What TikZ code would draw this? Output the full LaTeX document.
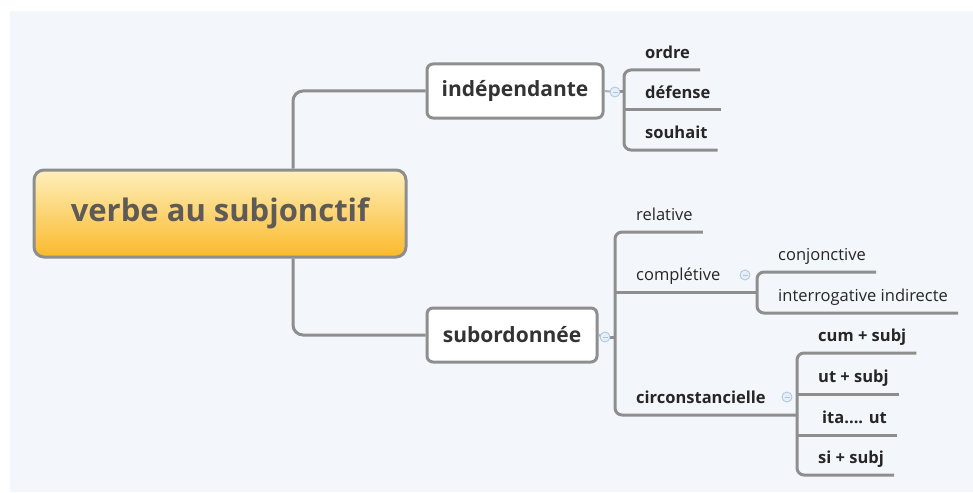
\documentclass[tikz,border=0pt]{standalone}
\usepackage{fontspec}
\setmainfont{Open Sans}
\usetikzlibrary{positioning}

\definecolor{bgcol}{HTML}{F3F6FA}
\definecolor{linegray}{HTML}{8E8E8E}
\definecolor{rootTop}{HTML}{FEEFBC}
\definecolor{rootBot}{HTML}{FAB92A}
\definecolor{rootText}{HTML}{5E5A55}
\definecolor{foldBlue}{HTML}{A9C6E3}
\definecolor{foldFill}{HTML}{E6EFF8}

\begin{document}
\begin{tikzpicture}[
  x=1pt, y=-1pt,
  branch/.style={draw=linegray, line width=3pt, rounded corners=7pt},
  stub/.style={draw=linegray!70, line width=2pt},
  rootbox/.style={draw=linegray, line width=3pt, rounded corners=10pt,
                  top color=rootTop, bottom color=rootBot,
                  minimum width=372pt, minimum height=87pt,
                  font=\fontsize{31}{36}\selectfont\bfseries, text=rootText},
  topicbox/.style={draw=linegray, line width=3pt, fill=white, rounded corners=6pt,
                   minimum height=54pt, inner xsep=10pt,
                   font=\fontsize{21}{25}\selectfont\bfseries, text=black!80},
  leaf/.style={anchor=south west, inner xsep=10pt, inner ysep=11pt, text depth=0pt,
               font=\fontsize{16.5}{20}\selectfont, text=black!85},
  leafb/.style={leaf, font=\fontsize{16.5}{20}\selectfont\bfseries},
  fold/.style={circle, draw=foldBlue, fill=foldFill, line width=0.8pt,
               minimum size=10pt, inner sep=0pt,
               path picture={\draw[foldBlue, line width=0.8pt]
                 ([xshift=-2.5pt]path picture bounding box.center) --
                 ([xshift=2.5pt]path picture bounding box.center);}}
]
\useasboundingbox (0,0) rectangle (973,492);
\fill[bgcol] (10,11) rectangle (973,492);

% central topic and the two main branches
\node[rootbox] (root) at (220,213.5) {verbe au subjonctif};
\node[topicbox, minimum width=176pt] (indep) at (515,91) {indépendante};
\node[topicbox, minimum width=170pt] (subord) at (512,335) {subordonnée};

\draw[branch, rounded corners=10pt] ([xshift=73pt]root.north) |- (indep.west);
\draw[branch, rounded corners=10pt] ([xshift=73pt]root.south) |- (subord.west);

% leaves of indépendante
\node[leafb] (ordre) at (635,70) {ordre};
\node[leafb] (defense) at (635,110) {défense};
\node[leafb] (souhait) at (635,150) {souhait};

% leaves of subordonnée
\node[leaf] (relative) at (626,232) {relative};
\node[leaf] (completive) at (626,292) {complétive};
\node[leafb] (circ) at (626,415) {circonstancielle};

\node[leaf] (conj) at (768,272) {conjonctive};
\node[leaf] (interr) at (768,313) {interrogative indirecte};

\node[leafb] (cum) at (808,353) {cum + subj};
\node[leafb] (ut) at (808,394) {ut + subj};
\node[leafb] (ita) at (812,435) {ita.... ut};
\node[leafb] (si) at (808,475) {si + subj};

% bracket points
\coordinate (kIndep) at (624,110);
\coordinate (kSub) at (615,323);
\coordinate (kCompl) at (757,292);
\coordinate (kCirc) at (797,415);
\coordinate (fIndep) at (615,92);
\coordinate (fSub) at (605,337);

\draw[stub] (indep.east) -- (fIndep);
\draw[branch] (fIndep) -- (kIndep |- fIndep);
\draw[branch] (ordre.south east) -- (ordre.south east -| kIndep)
  -- (souhait.south east -| kIndep) -- (souhait.south east);
\draw[branch] (kIndep) -- (defense.south east);

\draw[stub] (subord.east) -- (fSub);
\draw[branch] (fSub) -- (kSub |- fSub);
\draw[branch] (relative.south east) -- (relative.south east -| kSub)
  -- (kSub |- kCirc) -- (kCirc);
\draw[branch] (kSub |- kCompl) -- (kCompl);

\draw[branch] (conj.south east) -- (conj.south east -| kCompl)
  -- (interr.south east -| kCompl) -- (interr.south east);

\draw[branch] (cum.south east) -- (cum.south east -| kCirc)
  -- (si.south east -| kCirc) -- (si.south east);
\draw[branch] (ut.south east -| kCirc) -- (ut.south east);
\draw[branch] (ita.south east -| kCirc) -- (ita.south east);

% fold markers
\node[fold] at (fIndep) {};
\node[fold] at (fSub) {};
\node[fold] at (745,275) {};
\node[fold] at (787,397) {};
\end{tikzpicture}
\end{document}
